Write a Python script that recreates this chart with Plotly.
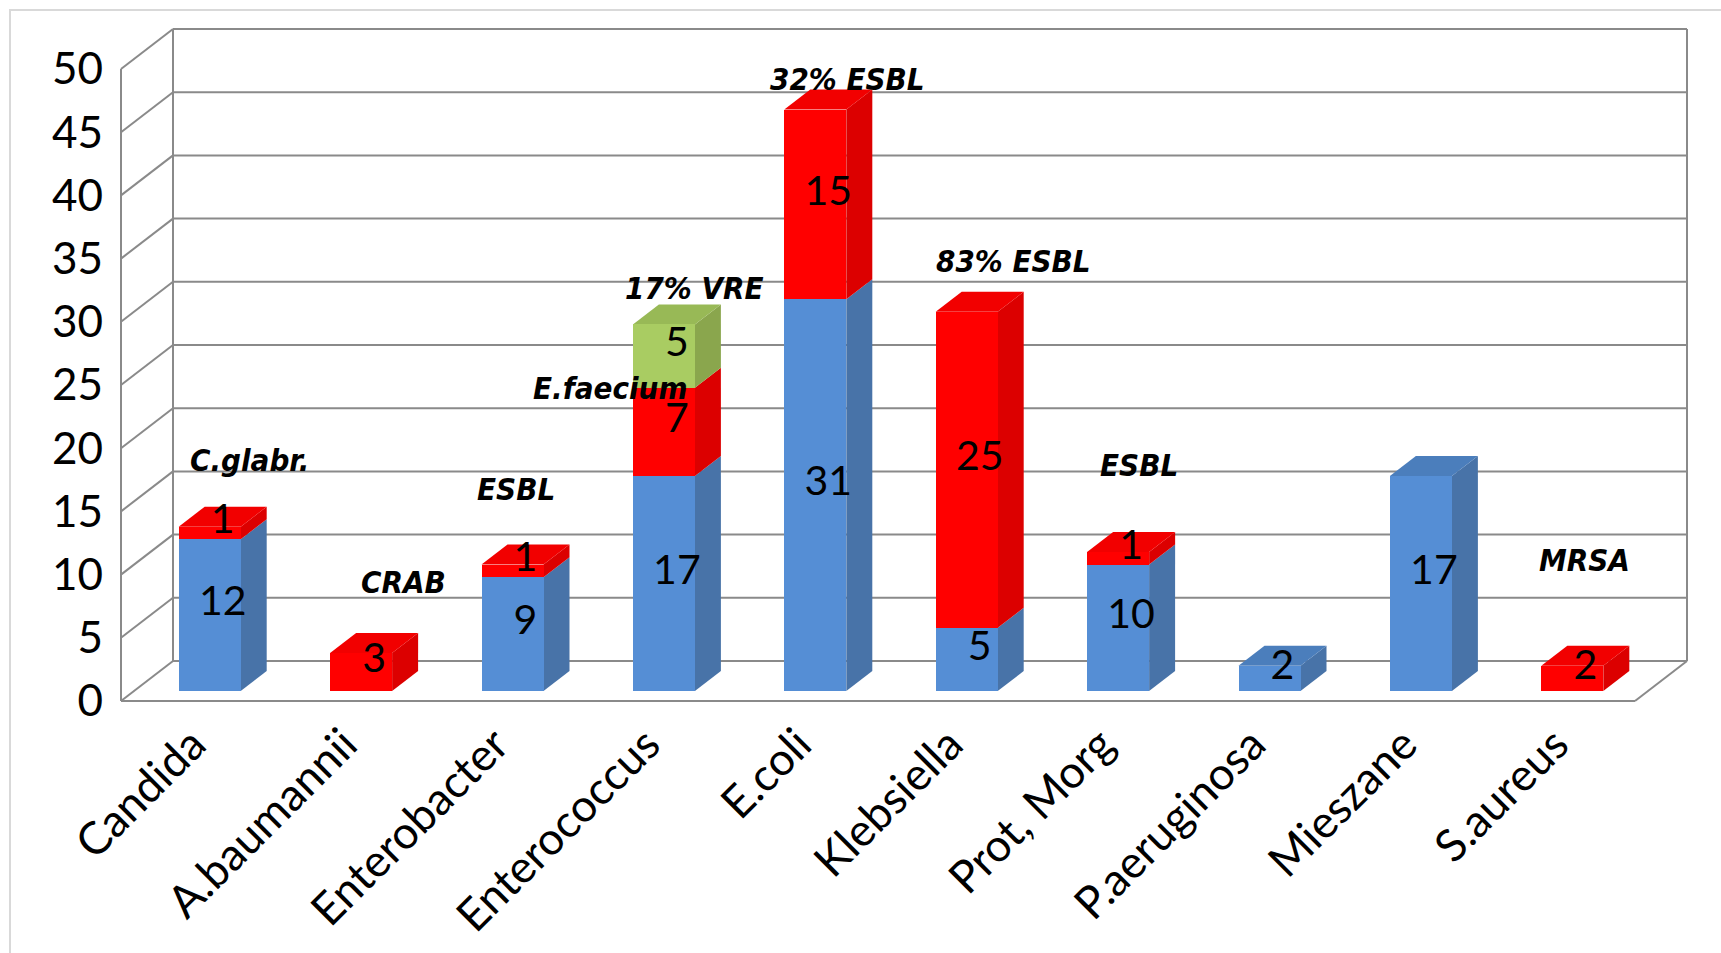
import plotly.graph_objects as go

# ---- data -------------------------------------------------------------
categories = ["Candida", "A.baumannii", "Enterobacter", "Enterococcus", "E.coli",
              "Klebsiella", "Prot, Morg", "P.aeruginosa", "Mieszane", "S.aureus"]
sensitive = [12, 0, 9, 17, 31, 5, 10, 2, 17, 0]
resistant = [1, 3, 1, 7, 15, 25, 1, 0, 0, 2]
vre = [0, 0, 0, 5, 0, 0, 0, 0, 0, 0]
y_ticks = [0, 5, 10, 15, 20, 25, 30, 35, 40, 45, 50]

note_text = ["C.glabr.", "CRAB", "ESBL", "E.faecium", "17% VRE",
             "32% ESBL", "83% ESBL", "ESBL", "MRSA"]

# ---- geometry (pixels) --------------------------------------------------
W, H = 1721, 953
L, R, T, B = 104, 20, 21, 245
PXX = 151.4          # pixels per category
PXY = 12.64          # pixels per unit of value
X0_PX = 134          # left edge of the category band (bar plane)
Y0_PX = 691          # value 0 on the bar plane

xmin = -0.5 - (X0_PX - L) / PXX
xmax = xmin + (W - L - R) / PXX
ymax = (Y0_PX - T) / PXY
ymin = ymax - (H - T - B) / PXY

# depth of the floor / walls, in data units
DX = 52 / PXX
DY = 40 / PXY
FRONT = -0.25        # front edge relative to the bar plane
BACK = 0.75          # back wall relative to the bar plane
BAR_DX = 0.5 * DX
BAR_DY = 0.5 * DY
BAR_W = 62 / PXX
HW = BAR_W / 2

GRID = "#8A8A8A"
BLUE = ("#558ED5", "#4873A8", "#4B7EBC")
RED = ("#FF0000", "#DC0000", "#F20000")
GREEN = ("#A9CC62", "#8AA64D", "#98B956")

series = [
    ("Pozostałe", sensitive, BLUE),
    ("Oporne", resistant, RED),
    ("VRE", vre, GREEN),
]

shapes = []


def line(x0, y0, x1, y1):
    shapes.append(dict(type="line", xref="x", yref="y", x0=x0, y0=y0, x1=x1, y1=y1,
                       line=dict(color=GRID, width=2), layer="below"))


def poly(pts, color):
    path = "M " + " L ".join(f"{x:.4f},{y:.4f}" for x, y in pts) + " Z"
    shapes.append(dict(type="path", xref="x", yref="y", path=path,
                       fillcolor=color, line=dict(width=0), layer="below"))


# walls and floor
x_fl = -0.5 + FRONT * DX
x_bl = -0.5 + BACK * DX
x_fr = 9.5 + FRONT * DX
x_br = 9.5 + BACK * DX
yf = FRONT * DY
yb = BACK * DY
top = y_ticks[-1]
for v in y_ticks:
    line(x_bl, v + yb, x_br, v + yb)          # back wall grid
    line(x_fl, v + yf, x_bl, v + yb)          # side wall diagonals
line(x_bl, yb, x_bl, top + yb)
line(x_br, yb, x_br, top + yb)
line(x_fl, yf, x_fl, top + yf)
line(x_fl, yf, x_fr, yf)
line(x_fr, yf, x_br, yb)

# side and top faces of the bars
label_x, label_y, label_t = [], [], []
for i in range(len(categories)):
    base = 0
    segs = [(vals[i], cols) for _, vals, cols in series if vals[i] > 0]
    for k, (v, cols) in enumerate(segs):
        t = base + v
        xr = i + HW
        poly([(xr, base), (xr + BAR_DX, base + BAR_DY),
              (xr + BAR_DX, t + BAR_DY), (xr, t)], cols[1])
        if k == len(segs) - 1:
            poly([(i - HW, t), (i - HW + BAR_DX, t + BAR_DY),
                  (xr + BAR_DX, t + BAR_DY), (xr, t)], cols[2])
        label_x.append(i + BAR_DX / 2)
        label_y.append(base + v / 2 + BAR_DY / 2)
        label_t.append(str(v))
        base = t

fig = go.Figure()
idx = list(range(len(categories)))
for name, vals, cols in series:
    fig.add_trace(go.Bar(x=idx, y=vals, name=name, width=BAR_W,
                         marker=dict(color=cols[0], line=dict(width=0)),
                         hoverinfo="x+y+name"))

fig.add_trace(go.Scatter(x=label_x, y=label_y, text=label_t, mode="text",
                         textposition="middle center",
                         textfont=dict(family="Lato", size=41, color="black"),
                         hoverinfo="skip", showlegend=False))

# notes above the bars: (category, height)
note_pos = [(0.26, 18.3), (1.28, 8.6), (2.02, 16.0), (2.65, 24.0), (3.2, 31.9),
            (4.21, 48.4), (5.31, 34.0), (6.14, 17.9), (9.08, 10.4)]
annotations = []
for txt, (cx, cy) in zip(note_text, note_pos):
    annotations.append(dict(x=cx, y=cy, xref="x", yref="y", text=txt, showarrow=False,
                            xanchor="center", yanchor="middle",
                            font=dict(family="DejaVu Sans Condensed, Liberation Sans",
                                      size=31, color="black", weight="bold", style="italic")))


def paper_x(px):
    return (px - L) / (W - L - R)


def paper_y(py):
    return (H - B - py) / (H - T - B)


shapes.append(dict(type="rect", xref="paper", yref="paper",
                   x0=paper_x(10), y0=paper_y(H + 10), x1=paper_x(W + 10), y1=paper_y(10),
                   line=dict(color="#D9D9D9", width=2), fillcolor="rgba(0,0,0,0)"))

fig.update_layout(
    width=W, height=H,
    margin=dict(l=L, r=R, t=T, b=B, autoexpand=False),
    barmode="stack",
    showlegend=False,
    paper_bgcolor="white",
    plot_bgcolor="rgba(0,0,0,0)",
    shapes=shapes,
    annotations=annotations,
    xaxis=dict(range=[xmin, xmax], showgrid=False, zeroline=False, showline=False,
               tickmode="array", tickvals=[i + FRONT * DX - 4 / PXX for i in idx],
               ticktext=categories, tickangle=-45, ticks="",
               tickfont=dict(family="Lato", size=45, color="black")),
    yaxis=dict(range=[ymin, ymax], showgrid=False, zeroline=False, showline=False,
               tickmode="array", tickvals=[v + yf for v in y_ticks],
               ticktext=[str(v) for v in y_ticks], ticks="",
               tickfont=dict(family="Lato", size=44, color="black")),
)

fig.write_html("out.html")
